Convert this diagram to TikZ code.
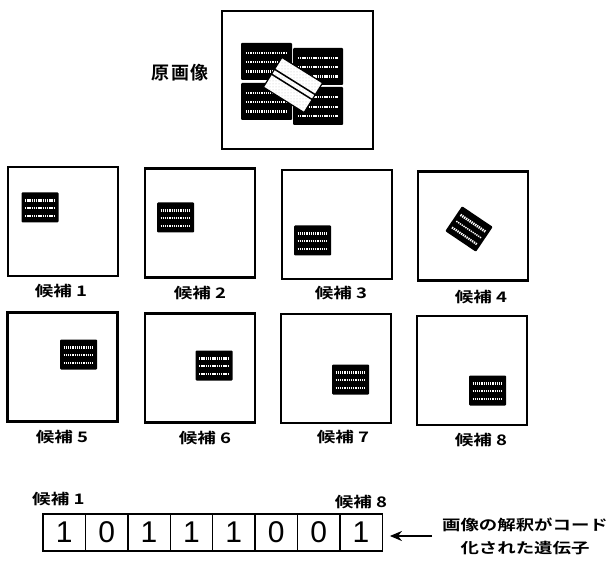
\documentclass[tikz,border=0pt]{standalone}
\usepackage{fontspec}
\setmainfont{Liberation Sans}
\newfontfamily\jpfont{Noto Sans CJK JP Bold}
\usetikzlibrary{calc,arrows.meta,patterns}

\tikzset{
	candframe/.style={draw, line width=2.2pt, minimum width=110, minimum height=109, inner sep=0},
	docblock/.style={fill=black, rounded corners=1pt, minimum width=37, minimum height=30, inner sep=0},
	textrow/.style={white, dash pattern=on 1.3pt off 0.9pt},
	lbl/.style={font=\jpfont\fontsize{14.5}{16}\selectfont, inner sep=0},
	cellbox/.style={draw, line width=1.4pt, minimum width=42.4, minimum height=37, inner sep=0, font=\fontsize{30}{30}\selectfont}
}

% white rows of "print" across a black block
\newcommand\textrows[1]{%
	\foreach \f/\w in {0.27/2.6,0.52/1.5,0.77/2.2}{
		\path ($(#1.north west)!\f!(#1.south west)$) coordinate (ra)
			($(#1.north east)!\f!(#1.south east)$) coordinate (rb);
		\draw[textrow, line width=\w pt] ($(ra)!0.1!(rb)$) -- ($(ra)!0.9!(rb)$);
	}}

\begin{document}
\begin{tikzpicture}[x=1pt,y=-1pt]
	\useasboundingbox (0,0) rectangle (613,561);
	% original image
	\node[candframe, minimum width=151, minimum height=138] (orig) at (297.5,80) {};
	\node[lbl, font=\jpfont\fontsize{18}{20}\selectfont] (origlbl) at (180,73) {原\hspace{2pt}画\hspace{2pt}像};
	\node[docblock, minimum width=51, minimum height=37] (o1) at (266.5,61.5) {};
	\node[docblock, minimum width=51, minimum height=37] (o2) at (266.5,101.5) {};
	\node[docblock, minimum width=50, minimum height=37] (o3) at (318,66.5) {};
	\node[docblock, minimum width=50, minimum height=38] (o4) at (318,106) {};
	\foreach \o in {o1,o2,o3,o4} {\textrows{\o}}
	\node[draw, line width=1.2pt, preaction={fill=white}, pattern=dots, pattern color=black!25,
		minimum width=48, minimum height=35, inner sep=0, rotate=-32] (slip) at (293,85) {};
	\foreach \f in {0.4,0.56}
		\draw[line width=1.5pt] ($(slip.north west)!\f!(slip.south west)$) -- ($(slip.north east)!\f!(slip.south east)$);

	% the eight candidates
	\foreach \n/\fx/\fy/\bx/\by/\r/\lx/\ly in {
		1/63/221.5/40/207.5/0/61/291,
		2/200/223/175.5/217.5/0/200/293,
		3/337/224.5/312.5/240.5/0/341/293,
		4/473/226/469/229/-34/481/297,
		5/62.5/367/78.5/354.5/0/62/437,
		6/200/368/214/365.5/0/205/438,
		7/336/368.5/350.5/379.5/0/343/437,
		8/472/370.5/487.5/390.5/0/481/440}{
		\node[candframe] (k\n) at (\fx,\fy) {};
		\node[docblock, rotate=\r] (b\n) at (\bx,\by) {};
		\textrows{b\n}
		\node[lbl] (l\n) at (\lx,\ly) {\scalebox{1.28}[1]{候補 \n}};
	}

	% gene
	\node[lbl, anchor=west] (g1) at (32,499) {\scalebox{1.28}[1]{候補 1}};
	\foreach \b [count=\i] in {1,0,1,1,1,0,0,1}
		\node[cellbox] (c\i) at ({43+42.4*(\i-0.5)},532.5) {\b};
	\node[lbl] (g8) at (361,502) {\scalebox{1.28}[1]{候補 8}};
	\node[lbl, align=center, font=\jpfont\fontsize{14.5}{23}\selectfont] (note) at (525,536)
		{\scalebox{1.27}[1]{画像の解釈がコード}\\\scalebox{1.27}[1]{化された遺伝子}};
	\coordinate (tail) at (432,536);
	\draw[-{Stealth[length=12pt,width=10pt]}, line width=2.4pt, shorten >=7pt] (tail) -- (c8.east |- tail);
\end{tikzpicture}
\end{document}
